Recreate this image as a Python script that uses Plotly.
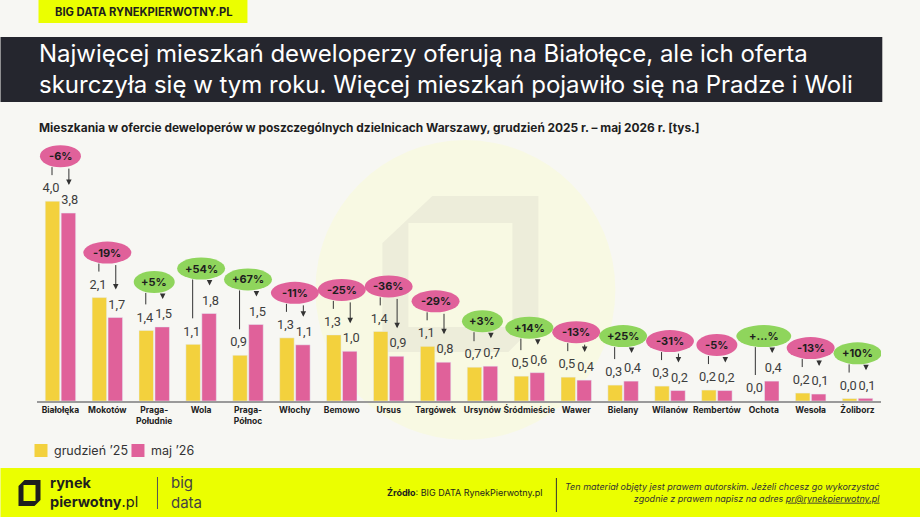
import plotly.graph_objects as go

# ---------------- data ----------------
districts = ["Białołęka", "Mokotów", "Praga-<br>Południe", "Wola", "Praga-<br>Północ", "Włochy",
             "Bemowo", "Ursus", "Targówek", "Ursynów", "Śródmieście", "Wawer", "Bielany",
             "Wilanów", "Rembertów", "Ochota", "Wesoła", "Żoliborz"]
dec25 = [4.02, 2.08, 1.42, 1.14, 0.92, 1.27, 1.33, 1.40, 1.10, 0.68, 0.50, 0.48, 0.32,
         0.30, 0.22, 0.00, 0.16, 0.049]
may26 = [3.78, 1.68, 1.49, 1.76, 1.54, 1.13, 1.00, 0.90, 0.78, 0.70, 0.57, 0.42, 0.40,
         0.21, 0.21, 0.40, 0.14, 0.054]
changes = ["-6%", "-19%", "+5%", "+54%", "+67%", "-11%", "-25%", "-36%", "-29%", "+3%",
           "+14%", "-13%", "+25%", "-31%", "-5%", "+...%", "-13%", "+10%"]
series_names = ["grudzień ’25", "maj ’26"]

# ---------------- style ----------------
YEL = "#f3d13d"
PINK = "#e0619a"
GREEN = "#8fd55c"
NEON = "#ebff00"
BG = "#f7f7f3"
DARK = "#25262e"
FONT = "Inter, Lato, sans-serif"
NUMFONT = "Roboto, sans-serif"

W, H = 920, 517
L, R, T, B = 36.5, 39.3, 138, 116
PW, PH = W - L - R, H - T - B
YMAX = 5.29
PXU = PH / YMAX          # pixels per data unit
XU = PW / 18.0           # pixels per category


def px(x):
    return (x - L) / PW


def py(y):
    return (H - B - y) / PH


def fmt(v):
    return f"{v:.1f}".replace(".", ",")


n = len(districts)
xs = list(range(n))
OFF = 0.18

fig = go.Figure()
fig.add_trace(go.Bar(x=xs, y=dec25, name=series_names[0], marker_color=YEL, showlegend=False))
fig.add_trace(go.Bar(x=xs, y=may26, name=series_names[1], marker_color=PINK, showlegend=False))

lab_dy = 12 / PXU
fig.add_trace(go.Scatter(
    x=[i - OFF - 0.02 for i in xs], y=[v + lab_dy for v in dec25], mode="text",
    text=[fmt(v) for v in dec25], textfont=dict(size=12.8, color="#3d3d3d", family=NUMFONT),
    cliponaxis=False, showlegend=False, hoverinfo="skip"))
fig.add_trace(go.Scatter(
    x=[i + OFF + 0.02 for i in xs], y=[v + lab_dy for v in may26], mode="text",
    text=[fmt(v) for v in may26], textfont=dict(size=12.8, color="#3d3d3d", family=NUMFONT),
    cliponaxis=False, showlegend=False, hoverinfo="skip"))

shapes = []
annotations = []

# watermark
cx, cy, rr = 465, 290, 150
shapes.append(dict(type="circle", xref="paper", yref="paper", layer="below",
                   x0=px(cx - rr), x1=px(cx + rr), y0=py(cy + rr), y1=py(cy - rr),
                   fillcolor="#f8f9e3", line=dict(width=0)))


def ppath(pts):
    return "M " + " L ".join(f"{px(a):.5f},{py(b):.5f}" for a, b in pts) + " Z"


shapes.append(dict(type="path", xref="paper", yref="paper", layer="below",
                   path=ppath([(432, 196), (538, 196), (538, 322), (508, 352), (382, 352), (382, 243)]),
                   fillcolor="#ededda", line=dict(width=0)))
shapes.append(dict(type="rect", xref="paper", yref="paper", layer="below",
                   x0=px(408), x1=px(512), y0=py(327), y1=py(223),
                   fillcolor="#f8f9e3", line=dict(width=0)))

# badges, lines, arrows
bh = 11 / PXU
for i in xs:
    top = max(dec25[i], may26[i])
    yc = top + 45 / PXU
    txt = changes[i]
    col = GREEN if txt.startswith("+") else PINK
    wpx = 20 + 7 * len(txt)
    hw = wpx / 2 / XU
    shapes.append(dict(type="circle", xref="x", yref="y", x0=i - hw, x1=i + hw,
                       y0=yc - bh, y1=yc + bh, fillcolor=col, line=dict(width=0)))
    annotations.append(dict(x=i, y=yc, xref="x", yref="y", text=f"<b>{txt}</b>", showarrow=False,
                            font=dict(size=11, color="#1e1e1e", family=FONT)))
    ybot = yc - bh
    shapes.append(dict(type="line", xref="x", yref="y", x0=i - OFF, x1=i - OFF,
                       y0=ybot, y1=dec25[i] + 26 / PXU, line=dict(color="#333333", width=1)))
    annotations.append(dict(x=i + OFF, y=may26[i] + 28 / PXU, ax=i + OFF, ay=ybot,
                            xref="x", yref="y", axref="x", ayref="y", text="", showarrow=True,
                            arrowhead=2, arrowsize=1.1, arrowwidth=1, arrowcolor="#333333"))

# top tag
shapes.append(dict(type="rect", xref="paper", yref="paper", x0=px(38), x1=px(247),
                   y0=py(23), y1=py(0), fillcolor=NEON, line=dict(width=0)))
annotations.append(dict(xref="paper", yref="paper", x=px(53), y=py(12), xanchor="left",
                        yanchor="middle", showarrow=False, text="<b>BIG DATA RYNEKPIERWOTNY.PL</b>",
                        font=dict(size=11.2, color="#1e1e1e", family=FONT)))

# title band
shapes.append(dict(type="rect", xref="paper", yref="paper", x0=px(0), x1=px(882),
                   y0=py(102), y1=py(37), fillcolor=DARK, line=dict(width=0)))
annotations.append(dict(xref="paper", yref="paper", x=px(37), y=py(54), xanchor="left",
                        yanchor="middle", showarrow=False,
                        text="Najwięcej mieszkań deweloperzy oferują na Białołęce, ale ich oferta",
                        font=dict(size=24, color="white", family=FONT)))
annotations.append(dict(xref="paper", yref="paper", x=px(37), y=py(85), xanchor="left",
                        yanchor="middle", showarrow=False,
                        text="skurczyła się w tym roku. Więcej mieszkań pojawiło się na Pradze i Woli",
                        font=dict(size=24, color="white", family=FONT)))

# subtitle
annotations.append(dict(xref="paper", yref="paper", x=px(37), y=py(128), xanchor="left",
                        yanchor="middle", showarrow=False,
                        text="<b>Mieszkania w ofercie deweloperów w poszczególnych dzielnicach Warszawy, "
                             "grudzień 2025 r. – maj 2026 r. [tys.]</b>",
                        font=dict(size=11.9, color="#1e1e1e", family=FONT)))

# legend
for (x0, col, name) in [(34, YEL, series_names[0]), (131, PINK, series_names[1])]:
    shapes.append(dict(type="rect", xref="paper", yref="paper", x0=px(x0), x1=px(x0 + 13),
                       y0=py(457), y1=py(444), fillcolor=col, line=dict(width=0)))
    annotations.append(dict(xref="paper", yref="paper", x=px(x0 + 18), y=py(450.5),
                            xanchor="left", yanchor="middle", showarrow=False, text=name,
                            font=dict(size=12.5, color="#333333", family=FONT)))

# footer
shapes.append(dict(type="rect", xref="paper", yref="paper", x0=px(0), x1=px(920),
                   y0=py(517), y1=py(468), fillcolor=NEON, line=dict(width=0)))
shapes.append(dict(type="path", xref="paper", yref="paper",
                   path=ppath([(24, 480), (40, 480), (40, 500), (34, 506), (18, 506), (18, 486)]),
                   fillcolor="#1e1e1e", line=dict(width=0)))
shapes.append(dict(type="rect", xref="paper", yref="paper", x0=px(23), x1=px(35),
                   y0=py(501), y1=py(485), fillcolor=NEON, line=dict(width=0)))
annotations.append(dict(xref="paper", yref="paper", x=px(48), y=py(492), xanchor="left",
                        yanchor="middle", showarrow=False, align="left",
                        text="<b>rynek</b><br><b>pierwotny</b>.pl",
                        font=dict(size=14.5, color="#1e1e1e", family=FONT)))
shapes.append(dict(type="line", xref="paper", yref="paper", x0=px(157), x1=px(157),
                   y0=py(477), y1=py(509), line=dict(color="#555555", width=1)))
annotations.append(dict(xref="paper", yref="paper", x=px(169), y=py(492), xanchor="left",
                        yanchor="middle", showarrow=False, align="left", text="big<br>data",
                        font=dict(size=15, color="#444444", family=FONT)))
annotations.append(dict(xref="paper", yref="paper", x=px(385), y=py(493), xanchor="left",
                        yanchor="middle", showarrow=False,
                        text="<b>Źródło</b>: BIG DATA RynekPierwotny.pl",
                        font=dict(size=9, color="#1e1e1e", family=FONT)))
shapes.append(dict(type="line", xref="paper", yref="paper", x0=px(556), x1=px(556),
                   y0=py(478), y1=py(512), line=dict(color="#333333", width=1)))
annotations.append(dict(xref="paper", yref="paper", x=px(882), y=py(493), xanchor="right",
                        yanchor="middle", showarrow=False, align="right",
                        text="<i>Ten materiał objęty jest prawem autorskim. Jeżeli chcesz go wykorzystać</i><br>"
                             "<i>zgodnie z prawem napisz na adres <u>pr@rynekpierwotny.pl</u></i>",
                        font=dict(size=9, color="#333333", family=FONT)))

fig.update_layout(
    width=W, height=H,
    margin=dict(l=L, r=R, t=T, b=B, pad=0),
    paper_bgcolor=BG, plot_bgcolor="rgba(0,0,0,0)",
    barmode="group", bargap=0.32, bargroupgap=0.09,
    shapes=shapes, annotations=annotations,
    font=dict(family=FONT),
    xaxis=dict(range=[-0.5, n - 0.5], tickmode="array", tickvals=xs,
               ticktext=[f"<b>{d}</b>" for d in districts],
               tickfont=dict(size=8.5, color="#222222", family=FONT),
               showline=True, linecolor="#9a9a9a", linewidth=1.5, showgrid=False,
               zeroline=False, ticks="", fixedrange=True),
    yaxis=dict(range=[0, YMAX], visible=False, showgrid=False, zeroline=False, fixedrange=True),
)

fig.write_html("out.html")
